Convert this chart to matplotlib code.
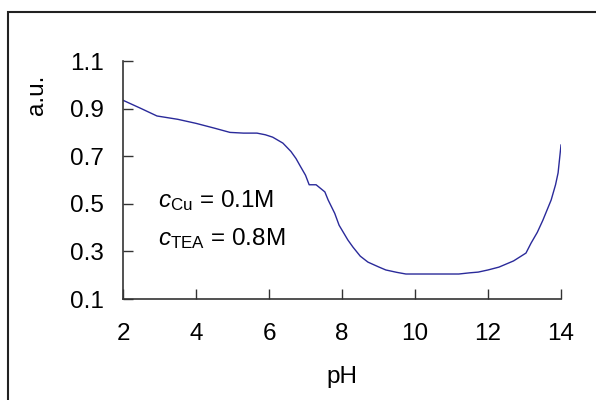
import numpy as np
import matplotlib
matplotlib.use('Agg')
import matplotlib.pyplot as plt
from matplotlib.patches import Rectangle

plt.rcParams['font.family'] = ['Liberation Sans', 'DejaVu Sans']
plt.rcParams['mathtext.fontset'] = 'custom'
plt.rcParams['mathtext.rm'] = 'Liberation Sans'
plt.rcParams['mathtext.it'] = 'Liberation Sans:italic'

# values
ph = [2.0, 2.5, 2.93, 3.5, 4.0, 4.5, 4.93, 5.3, 5.67, 5.9, 6.1, 6.38, 6.6,
      6.74, 6.85, 7.0, 7.1, 7.29, 7.53, 7.62, 7.8, 7.92, 8.16, 8.3, 8.5,
      8.71, 9.0, 9.2, 9.5, 9.75, 10.5, 11.2, 11.5, 11.73, 12.0, 12.3, 12.7,
      13.04, 13.18, 13.35, 13.5, 13.73, 13.85, 13.92, 14.0]
au = [0.935, 0.9, 0.869, 0.855, 0.838, 0.818, 0.80, 0.797, 0.797, 0.79,
      0.78, 0.755, 0.72, 0.69, 0.66, 0.62, 0.58, 0.58, 0.55, 0.516, 0.46,
      0.41, 0.348, 0.318, 0.28, 0.255, 0.235, 0.222, 0.212, 0.205, 0.205,
      0.205, 0.21, 0.213, 0.222, 0.234, 0.26, 0.293, 0.335, 0.38, 0.43,
      0.516, 0.58, 0.63, 0.747]

xticks = [2, 4, 6, 8, 10, 12, 14]
yticks = [0.1, 0.3, 0.5, 0.7, 0.9, 1.1]

fig = plt.figure(figsize=(5.96, 4.0), dpi=100)
ax = fig.add_axes([0.2064, 0.2525, 0.7349, 0.595])

ax.plot(ph, au, color='#2a2a9a', lw=1.0)

ax.set_xlim(2, 14)
ax.set_ylim(0.1, 1.1)
ax.set_xticks(xticks)
ax.set_yticks(yticks)
ax.set_xticklabels([str(t) for t in xticks])
ax.set_yticklabels(['%.1f' % t for t in yticks])
ax.tick_params(direction='in', length=7, width=1.0, labelsize=17.5, color='#333333')
ax.tick_params(axis='x', pad=17)
ax.tick_params(axis='y', pad=14)
for s in ['top', 'right']:
    ax.spines[s].set_visible(False)
for s in ['left', 'bottom']:
    ax.spines[s].set_color('#333333')
    ax.spines[s].set_linewidth(1.2)

ax.text(2.96, 0.487, r'$c_{\mathrm{Cu}}$ = 0.1M', fontsize=17.5)
ax.text(2.96, 0.327, r'$c_{\mathrm{TEA}}$ = 0.8M', fontsize=17.5)

fig.text(0.5738, 0.0575, 'pH', fontsize=17.5, ha='center', va='center')
fig.text(0.062, 0.762, 'a.u.', fontsize=17.5, ha='center', va='center', rotation=90)

# outer frame
fig.patches.append(Rectangle((8 / 596, -0.1), 1.2, 1 - 12 / 400 + 0.1,
                             transform=fig.transFigure, fill=False,
                             edgecolor='#222222', lw=1.5))

fig.savefig('out.png', dpi=100)
